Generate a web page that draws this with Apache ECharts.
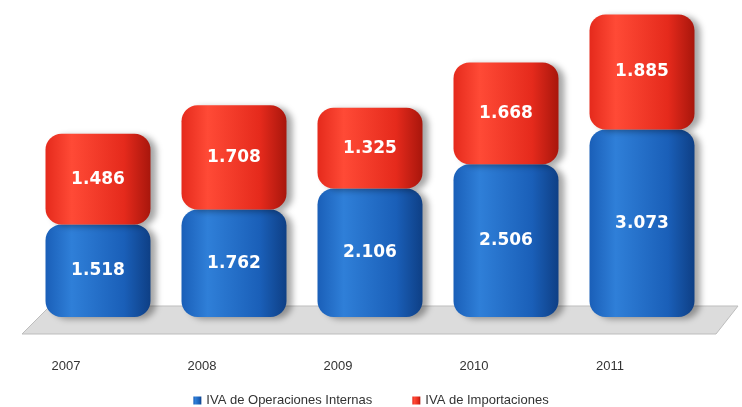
<!DOCTYPE html>
<html>
<head>
    <meta charset="UTF-8">
    <title>IVA</title>
    <script src="https://cdn.jsdelivr.net/npm/echarts@6/dist/echarts.min.js"></script>
    <style>
        html, body { margin: 0; padding: 0; background: #fff; }
        #main { width: 742px; height: 407px; }
    </style>
</head>
<body>
<div id="main"></div>
<script type="text/javascript">
    var years = ['2007', '2008', '2009', '2010', '2011'];
    var internas = [1.518, 1.762, 2.106, 2.506, 3.073];
    var importaciones = [1.486, 1.708, 1.325, 1.668, 1.885];

    var myChart = echarts.init(document.getElementById('main'));

    function grad(light, mid, dark) {
        return new echarts.graphic.LinearGradient(0, 0, 1, 0, [
            { offset: 0, color: mid },
            { offset: 0.25, color: light },
            { offset: 0.75, color: mid },
            { offset: 1, color: dark }
        ]);
    }

    function fmt(p) {
        return p.value.toFixed(3);
    }

    var labelStyle = {
        show: true,
        position: 'inside',
        formatter: fmt,
        color: '#fff',
        fontSize: 17,
        fontWeight: 'bold',
        fontFamily: 'DejaVu Sans'
    };

    option = {
        animation: false,
        backgroundColor: '#fff',
        grid: { left: 30, right: 32, top: 12, bottom: 90 },
        graphic: [
            {
                type: 'polygon',
                z: 0,
                shape: { points: [[22, 334], [716, 334], [738, 306], [50, 306]] },
                style: { fill: '#dcdcdc', stroke: '#bdbdbd', lineWidth: 1 }
            }
        ],
        legend: {
            top: 389,
            left: 'center',
            itemWidth: 8,
            itemHeight: 8,
            itemGap: 40,
            icon: 'rect',
            textStyle: { color: '#333', fontSize: 13, fontFamily: 'Liberation Sans' },
            data: ['IVA de Operaciones Internas', 'IVA de Importaciones']
        },
        xAxis: {
            type: 'category',
            data: years,
            axisLine: { show: false },
            axisTick: { show: false },
            axisLabel: {
                color: '#333',
                fontSize: 13,
                margin: 43,
                padding: [0, 64, 0, 0],
                fontFamily: 'Liberation Sans'
            }
        },
        yAxis: {
            type: 'value',
            min: 0,
            max: 5,
            show: false,
            splitLine: { show: false }
        },
        series: [
            {
                name: 'IVA de Operaciones Internas',
                type: 'bar',
                stack: 'iva',
                barWidth: 105,
                z: 3,
                color: '#1a5fb8',
                itemStyle: {
                    color: grad('#2f7fd8', '#1a5fb8', '#0e3f85'),
                    borderRadius: 16,
                    shadowColor: 'rgba(0,0,0,0.35)',
                    shadowBlur: 6,
                    shadowOffsetX: 6,
                    shadowOffsetY: 2
                },
                label: labelStyle,
                data: internas
            },
            {
                name: 'IVA de Importaciones',
                type: 'bar',
                stack: 'iva',
                barWidth: 105,
                z: 3,
                color: '#e52a1c',
                itemStyle: {
                    color: grad('#ff4a36', '#e52a1c', '#a8160c'),
                    borderRadius: 16,
                    shadowColor: 'rgba(0,0,0,0.35)',
                    shadowBlur: 6,
                    shadowOffsetX: 6,
                    shadowOffsetY: 2
                },
                label: labelStyle,
                data: importaciones
            }
        ]
    };

    myChart.setOption(option);
</script>
</body>
</html>
